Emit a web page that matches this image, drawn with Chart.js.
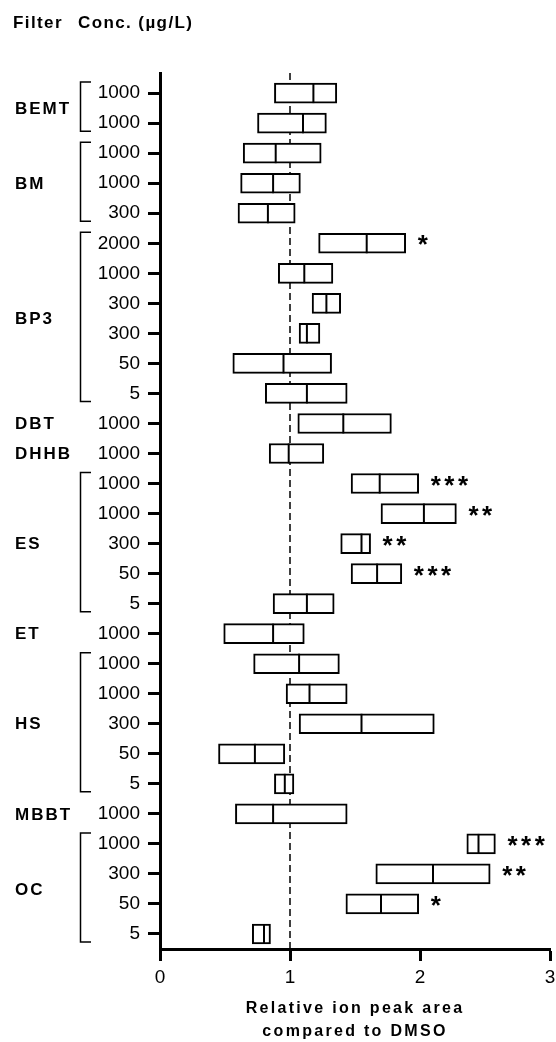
<!DOCTYPE html>
<html>
<head>
<meta charset="utf-8">
<script src="https://cdn.jsdelivr.net/npm/chart.js@4/dist/chart.umd.min.js"></script>
<style>
  html, body { margin: 0; padding: 0; background: #fff; }
  #c { display: block; }
</style>
</head>
<body>
<canvas id="c" width="556" height="1042"></canvas>
<script>
// ---- Data ----
const GROUPS = ['BEMT', 'BM', 'BP3', 'DBT', 'DHHB', 'ES', 'ET', 'HS', 'MBBT', 'OC'];
const GROUP_SIZES = [2, 3, 6, 1, 1, 5, 1, 5, 1, 4];
const CONC = ['1000','1000','1000','1000','300','2000','1000','300','300','50','5','1000','1000',
              '1000','1000','300','50','5','1000','1000','1000','300','50','5','1000',
              '1000','300','50','5'];
const LOW    = [0.88,0.75,0.64,0.62,0.60,1.22,0.91,1.17,1.07,0.56,0.81,1.06,0.84,
                1.47,1.70,1.39,1.47,0.87,0.49,0.72,0.97,1.07,0.45,0.88,0.58,
                2.36,1.66,1.43,0.71];
const MEDIAN = [1.18,1.10,0.89,0.87,0.83,1.59,1.11,1.28,1.13,0.95,1.13,1.41,0.99,
                1.69,2.03,1.55,1.67,1.13,0.87,1.07,1.15,1.55,0.73,0.96,0.87,
                2.45,2.10,1.70,0.80];
const HIGH   = [1.36,1.28,1.24,1.08,1.04,1.89,1.33,1.39,1.23,1.32,1.44,1.78,1.26,
                1.99,2.28,1.62,1.86,1.34,1.11,1.38,1.44,2.11,0.96,1.03,1.44,
                2.58,2.54,1.99,0.85];
const SIGNIF = ['','','','','','*','','','','','','','',
                '***','**','**','***','','','','','','','','',
                '***','**','*',''];
const X_TICKS = [0, 1, 2, 3];
const REF_VALUE = 1;
const HEADER_FILTER = 'Filter';
const HEADER_CONC = 'Conc. (µg/L)';
const X_TITLE = ['Relative ion peak area', 'compared to DMSO'];

const FONT = '"Liberation Sans", Arial, Helvetica, sans-serif';

const decorPlugin = {
  id: 'decor',
  beforeDatasetsDraw(chart) {
    const ctx = chart.ctx, xs = chart.scales.x, area = chart.chartArea;
    const xp = xs.getPixelForValue(REF_VALUE);
    ctx.save();
    ctx.strokeStyle = '#000';
    ctx.lineWidth = 1.5;
    ctx.setLineDash([7, 4]);
    ctx.beginPath();
    ctx.moveTo(xp, area.top);
    ctx.lineTo(xp, area.bottom);
    ctx.stroke();
    ctx.restore();
  },
  afterDraw(chart) {
    const ctx = chart.ctx, xs = chart.scales.x, ys = chart.scales.y, area = chart.chartArea;
    ctx.save();
    ctx.fillStyle = '#000';
    ctx.strokeStyle = '#000';
    // header
    ctx.font = 'bold 17px ' + FONT;
    ctx.letterSpacing = '1.4px';
    ctx.textBaseline = 'middle';
    ctx.textAlign = 'left';
    ctx.fillText(HEADER_FILTER, 13, 23);
    ctx.fillText(HEADER_CONC, 78, 23);
    // groups + brackets
    let start = 0;
    GROUPS.forEach((g, gi) => {
      const n = GROUP_SIZES[gi];
      const y0 = ys.getPixelForValue(start), y1 = ys.getPixelForValue(start + n - 1);
      ctx.font = 'bold 17px ' + FONT;
      ctx.letterSpacing = '2px';
      ctx.textBaseline = 'middle';
      ctx.textAlign = 'left';
      ctx.fillText(g, 15, (y0 + y1) / 2 + 1);
      ctx.letterSpacing = '0px';
      if (n > 1) {
        ctx.lineWidth = 1.5;
        ctx.beginPath();
        ctx.moveTo(91, y0 - 11);
        ctx.lineTo(80.5, y0 - 11);
        ctx.lineTo(80.5, y1 + 8);
        ctx.lineTo(91, y1 + 8);
        ctx.stroke();
      }
      start += n;
    });
    // significance stars
    ctx.font = 'bold 26px ' + FONT;
    ctx.letterSpacing = '3.5px';
    ctx.textBaseline = 'alphabetic';
    ctx.textAlign = 'left';
    SIGNIF.forEach((s, i) => {
      if (!s) return;
      ctx.fillText(s, xs.getPixelForValue(HIGH[i]) + 12, ys.getPixelForValue(i) + 10);
    });
    // x title
    ctx.font = 'bold 16px ' + FONT;
    ctx.letterSpacing = '2.3px';
    ctx.textAlign = 'center';
    ctx.textBaseline = 'middle';
    const cx = (area.left + area.right) / 2;
    ctx.fillText(X_TITLE[0], cx, area.bottom + 60);
    ctx.fillText(X_TITLE[1], cx, area.bottom + 83);
    ctx.restore();
  }
};

new Chart(document.getElementById('c'), {
  type: 'bar',
  data: {
    datasets: [
      {
        type: 'bar',
        label: 'range',
        data: CONC.map((_, i) => ({ y: i, x: [LOW[i], HIGH[i]] })),
        backgroundColor: '#fff',
        borderColor: '#000',
        borderWidth: 2,
        borderSkipped: false,
        barThickness: 20,
        order: 2
      },
      {
        type: 'scatter',
        label: 'median',
        data: CONC.map((_, i) => ({ y: i, x: MEDIAN[i] })),
        pointStyle: 'line',
        rotation: 90,
        radius: 10,
        hoverRadius: 10,
        borderColor: '#000',
        borderWidth: 2,
        order: 1,
        clip: false
      }
    ]
  },
  options: {
    indexAxis: 'y',
    responsive: false,
    animation: false,
    devicePixelRatio: 1,
    layout: { autoPadding: false, padding: { top: 73, right: 0, left: 0, bottom: 0 } },
    plugins: { legend: { display: false }, tooltip: { enabled: false } },
    scales: {
      x: {
        type: 'linear',
        position: 'bottom',
        min: 0, max: 3,
        offset: false,
        afterBuildTicks: s => { s.ticks = X_TICKS.map(v => ({ value: v })); },
        ticks: { color: '#000', font: { family: FONT, size: 19 }, padding: 5, maxRotation: 0 },
        grid: { offset: false, drawOnChartArea: false, drawTicks: true, tickLength: 12, tickWidth: 3, tickColor: '#000' },
        border: { display: true, color: '#000', width: 3 },
        afterFit: s => { s.height = 93; s.paddingRight = 6; s.paddingLeft = 0; }
      },
      y: {
        type: 'linear',
        position: 'left',
        reverse: true,
        min: -0.67, max: 28.5,
        bounds: 'data',
        offset: false,
        afterBuildTicks: s => { s.ticks = CONC.map((_, i) => ({ value: i })); },
        ticks: { autoSkip: false, callback: v => CONC[v], color: '#000', font: { family: FONT, size: 19 }, padding: 8 },
        grid: { offset: false, drawOnChartArea: false, drawTicks: true, tickLength: 12, tickWidth: 3, tickColor: '#000' },
        border: { display: true, color: '#000', width: 3 },
        afterFit: s => { s.width = 160; }
      }
    }
  },
  plugins: [decorPlugin]
});
</script>
</body>
</html>
